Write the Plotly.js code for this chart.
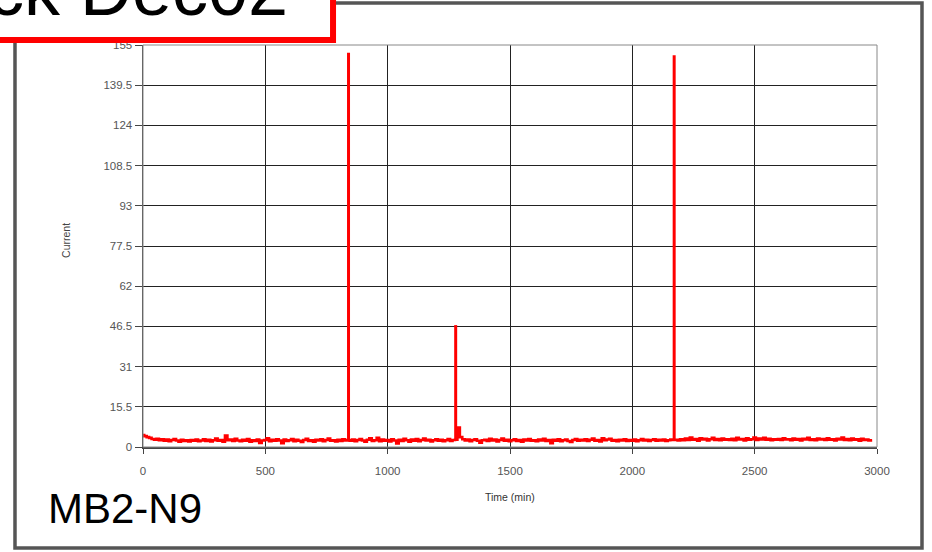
<!DOCTYPE html>
<html>
<head>
<meta charset="utf-8">
<script src="https://cdn.plot.ly/plotly-3.0.1.min.js"></script>
<style>html,body{margin:0;padding:0;background:#fff;}#chart{width:932px;height:552px;}</style>
</head>
<body>
<div id="chart"></div>
<script>
// Time axis: samples every 10 min starting at 0
const timeStart = 0;
const timeStep = 10;
// Baseline current readings
const current = [
  4.6, 4.2, 3.8, 3.5, 3.1, 2.8, 3.2, 2.6, 3.0, 2.4, 2.9, 2.2, 2.7, 3.1, 2.5, 2.0, 2.8, 2.3, 2.6, 2.1,
  2.7, 2.4, 2.9, 2.2, 2.5, 3.0, 2.3, 2.8, 2.1, 2.6, 3.3, 2.4, 2.7, 2.0, 4.4, 2.6, 2.9, 2.3, 3.2, 2.5,
  2.2, 2.8, 2.4, 3.1, 2.0, 2.6, 2.3, 2.9, 1.6, 2.5, 2.7, 3.4, 2.2, 2.8, 2.4, 3.0, 2.5, 1.5, 2.9, 2.3,
  2.6, 3.1, 2.2, 2.8, 2.4, 1.9, 2.7, 3.2, 2.3, 2.6, 2.0, 2.8, 2.5, 3.0, 2.2, 2.7, 3.3, 2.4, 2.6, 2.1,
  2.8, 2.3, 3.0, 2.5, 2.7, 2.4, 2.9, 2.2, 2.7, 3.1, 2.5, 2.0, 2.8, 3.4, 2.3, 2.6, 3.5, 2.2, 2.9, 2.4,
  2.7, 2.1, 3.0, 2.5, 1.4, 2.8, 2.3, 3.2, 2.6, 2.0, 2.9, 2.4, 3.1, 2.2, 2.7, 3.3, 2.5, 2.8, 2.1, 2.6,
  3.0, 2.4, 2.8, 2.2, 2.6, 3.1, 2.3, 2.7, 2.8, 7.5, 3.8, 3.0, 2.5, 2.9, 2.2, 2.7, 3.0, 2.4, 1.7, 2.6,
  2.8, 2.3, 3.2, 2.5, 2.9, 2.1, 2.7, 3.3, 2.4, 2.8, 2.2, 2.6, 3.0, 2.3, 2.7, 2.0, 2.9, 2.5, 3.1, 2.4,
  2.6, 2.2, 2.9, 2.5, 3.2, 2.3, 2.7, 1.5, 2.8, 2.4, 3.0, 2.2, 2.6, 2.9, 2.3, 1.9, 2.7, 3.1, 2.4, 2.8,
  2.5, 3.0, 2.3, 2.8, 3.3, 2.4, 2.7, 2.1, 3.4, 2.6, 2.9, 3.2, 2.4, 2.7, 2.2, 2.8, 2.5, 3.0, 2.3, 2.7,
  2.4, 2.9, 2.2, 2.6, 3.1, 2.5, 2.8, 2.3, 2.7, 3.0, 2.4, 2.8, 2.5, 2.9, 2.3, 2.6, 2.9, 2.7, 2.8, 2.5,
  3.0, 2.6, 3.3, 2.7, 3.6, 2.8, 3.1, 2.4, 3.4, 2.9, 3.2, 2.5, 3.0, 3.5, 2.7, 3.1, 2.6, 3.3, 2.8, 3.0,
  2.7, 3.2, 2.6, 3.5, 2.9, 3.1, 2.5, 3.4, 2.8, 3.0, 3.6, 2.7, 3.3, 2.9, 3.5, 2.8, 3.2, 2.6, 3.0, 2.8,
  3.1, 2.7, 3.4, 2.9, 3.0, 2.6, 3.3, 2.8, 3.1, 2.5, 3.2, 2.9, 3.5, 2.7, 3.0, 2.6, 3.3, 2.9, 3.1, 2.7,
  3.4, 2.8, 3.0, 2.5, 3.2, 2.9, 3.6, 2.7, 3.1, 2.6, 3.3, 2.8, 3.0, 2.4, 3.2, 2.7, 2.9, 2.5, 2.6
];
// Current spikes (time in min, peak current)
const spikeTimes = [840, 1278, 2171];
const spikePeaks = [152, 47, 151];
const spikeBases = [2.7, 2.8, 2.7];

const xTickVals = [0, 500, 1000, 1500, 2000, 2500, 3000];
const xTickText = ["0", "500", "1000", "1500", "2000", "2500", "3000"];
const yTickVals = [0, 15.5, 31, 46.5, 62, 77.5, 93, 108.5, 124, 139.5, 155];
const yTickText = ["0", "15.5", "31", "46.5", "62", "77.5", "93", "108.5", "124", "139.5", "155"];
const titleText = "ck Dec02";
const panelLabel = "MB2-N9";
const xTitle = "Time (min)";
const yTitle = "Current";

const spikeX = [], spikeY = [];
spikeTimes.forEach((t, i) => {
  spikeX.push(t, t, null);
  spikeY.push(spikeBases[i], spikePeaks[i], null);
});

const traces = [
  {
    type: "scatter", mode: "lines",
    x0: timeStart, dx: timeStep, y: current,
    line: {color: "#ff0000", width: 2.6, shape: "hvh"},
    hoverinfo: "skip"
  },
  {
    type: "scatter", mode: "lines",
    x: spikeX, y: spikeY,
    line: {color: "#ff0000", width: 3},
    hoverinfo: "skip"
  }
];

const F = "Arial, 'Liberation Sans', sans-serif";
const layout = {
  width: 932,
  height: 552,
  margin: {l: 143, r: 55, t: 45, b: 105},
  paper_bgcolor: "#ffffff",
  plot_bgcolor: "#ffffff",
  showlegend: false,
  xaxis: {
    range: [0, 3000],
    tickvals: xTickVals,
    ticktext: xTickText,
    showgrid: true,
    gridcolor: "#222222",
    gridwidth: 1,
    zeroline: false,
    showline: true,
    linecolor: "#444444",
    linewidth: 1.5,
    ticks: "outside",
    ticklen: 5,
    tickcolor: "#444444",
    ticklabelstandoff: 8,
    tickfont: {family: F, size: 11.5, color: "#555555"}
  },
  yaxis: {
    range: [0, 155],
    tickvals: yTickVals,
    ticktext: yTickText,
    showgrid: true,
    gridcolor: "#222222",
    gridwidth: 1,
    zeroline: false,
    showline: true,
    linecolor: "#444444",
    linewidth: 1.5,
    ticks: "outside",
    ticklen: 7,
    tickcolor: "#444444",
    tickfont: {family: F, size: 11.5, color: "#555555"}
  },
  shapes: [
    {type: "rect", xref: "paper", yref: "paper", x0: 0, x1: 1, y0: 0, y1: 1,
     line: {color: "#888888", width: 1}, layer: "above"},
    {type: "rect", xref: "paper", yref: "paper", x0: -0.1744, x1: 1.0613, y0: -0.2512, y1: 1.1045,
     line: {color: "#555555", width: 3.5}, layer: "above"},
    {type: "rect", xref: "paper", yref: "paper", x0: -0.25, x1: 0.2589, y0: 1.0124, y1: 1.2,
     line: {color: "#ff0000", width: 6}, fillcolor: "#ffffff", layer: "above"}
  ],
  annotations: [
    {xref: "paper", yref: "paper", x: 0.2003, y: 1.1368, xanchor: "right", yanchor: "middle",
     text: titleText, showarrow: false, font: {family: F, size: 72, color: "#000000"}},
    {xref: "paper", yref: "paper", x: -0.132, y: -0.152, xanchor: "left", yanchor: "middle",
     text: panelLabel, showarrow: false, font: {family: F, size: 42, color: "#000000"}},
    {xref: "paper", yref: "paper", x: 0.5, y: -0.124, xanchor: "center", yanchor: "middle",
     text: xTitle, showarrow: false, font: {family: F, size: 10.5, color: "#333333"}},
    {xref: "paper", yref: "paper", x: -0.105, y: 0.515, xanchor: "center", yanchor: "middle",
     text: yTitle, textangle: -90, showarrow: false, font: {family: F, size: 10.5, color: "#444444"}}
  ]
};

Plotly.newPlot("chart", traces, layout, {displayModeBar: false, staticPlot: true});
</script>
</body>
</html>
